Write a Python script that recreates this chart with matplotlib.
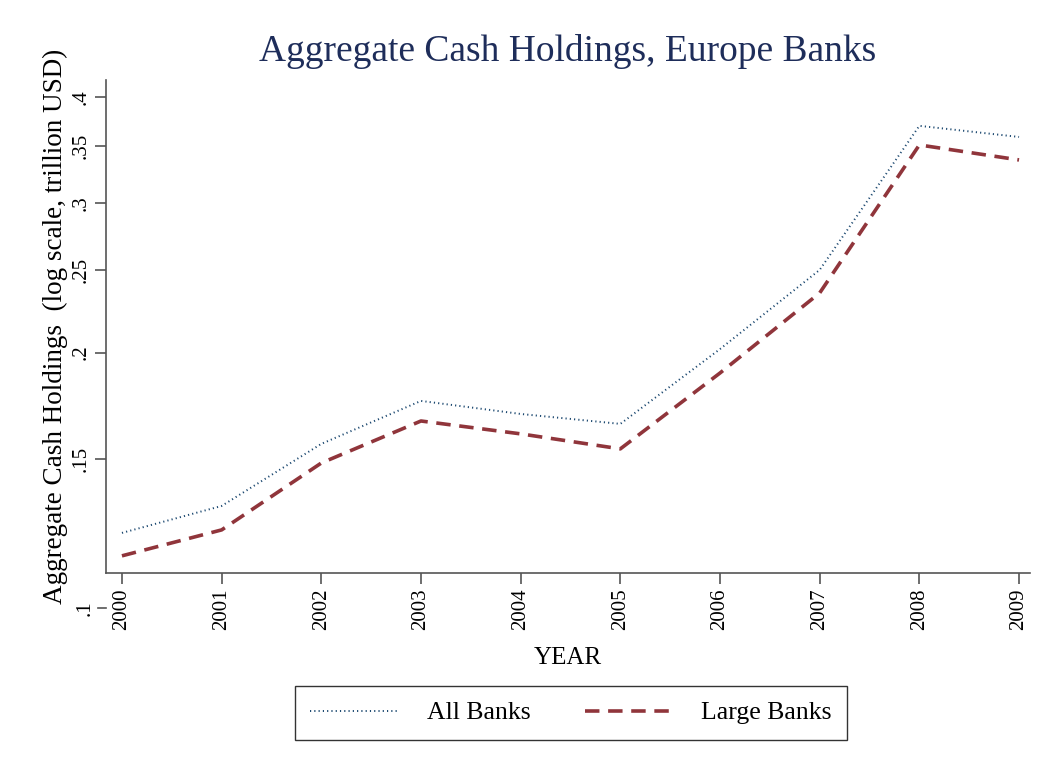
import numpy as np
import matplotlib.pyplot as plt
import matplotlib.transforms as mtransforms

plt.rcParams['font.family'] = ['Liberation Serif', 'DejaVu Serif']

years = [2000, 2001, 2002, 2003, 2004, 2005, 2006, 2007, 2008, 2009]
all_banks = [0.1226, 0.1319, 0.1561, 0.1754, 0.1693, 0.1648, 0.2019, 0.2503, 0.370, 0.359]
large_banks = [0.1152, 0.1236, 0.1482, 0.1661, 0.1604, 0.1540, 0.1892, 0.2351, 0.3513, 0.3373]
ytick_vals = [0.15, 0.2, 0.25, 0.3, 0.35, 0.4]
ytick_labels = ['.15', '.2', '.25', '.3', '.35', '.4']

navy = '#1a476f'
maroon = '#90353b'
axis_col = '#555555'

fig = plt.figure(figsize=(10.49, 7.69), dpi=100)
ax = fig.add_axes([106/1049, 1 - 573/769, (1030-106)/1049, (573-80)/769])

ax.plot(years, all_banks, color=navy, linestyle=(0, (0.6, 1.6)), linewidth=1.4,
        label='All Banks')
ax.plot(years, large_banks, color=maroon, linestyle=(0, (4.0, 2.4)), linewidth=2.6,
        label='Large Banks')

ax.set_yscale('log')
ax.set_ylim(0.10996, 0.419)
ax.set_xlim(1999.84, 2009.11)
ax.set_yticks(ytick_vals)
ax.set_yticklabels(ytick_labels, rotation=90, va='center', fontsize=15)
ax.yaxis.set_minor_locator(plt.NullLocator())
ax.set_xticks(years)
ax.set_xticklabels([str(y) for y in years], rotation=90, fontsize=15)
ax.tick_params(axis='both', length=8, width=1.2, color=axis_col, pad=3)

# the .1 tick sits below the plot region, as in the original
trans = mtransforms.blended_transform_factory(ax.transAxes, ax.transData)
ax.plot([-8/924, 0], [0.1, 0.1], transform=trans, color=axis_col, linewidth=1.2,
        clip_on=False)
ax.text(-11/924, 0.1, '.1', transform=trans, rotation=90, ha='right', va='center',
        fontsize=15, clip_on=False)

for side in ['top', 'right']:
    ax.spines[side].set_visible(False)
for side in ['left', 'bottom']:
    ax.spines[side].set_color(axis_col)
    ax.spines[side].set_linewidth(1.2)

ax.set_title('Aggregate Cash Holdings, Europe Banks', fontsize=27, color='#1e2d5a',
             pad=14)
ax.set_xlabel('YEAR', fontsize=18, labelpad=12)
ax.set_ylabel('Aggregate Cash Holdings  (log scale, trillion USD)', fontsize=19.5,
              labelpad=3)

leg = fig.legend(loc='center', bbox_to_anchor=(571/1049, 1 - 713/769), ncol=2,
                 fontsize=18.5, frameon=True, fancybox=False, edgecolor='black',
                 handlelength=3.4, handletextpad=1.15, columnspacing=2.1,
                 borderpad=0.6, borderaxespad=0)
leg.get_frame().set_linewidth(1.0)

fig.savefig('out.png', dpi=100, facecolor='white')
